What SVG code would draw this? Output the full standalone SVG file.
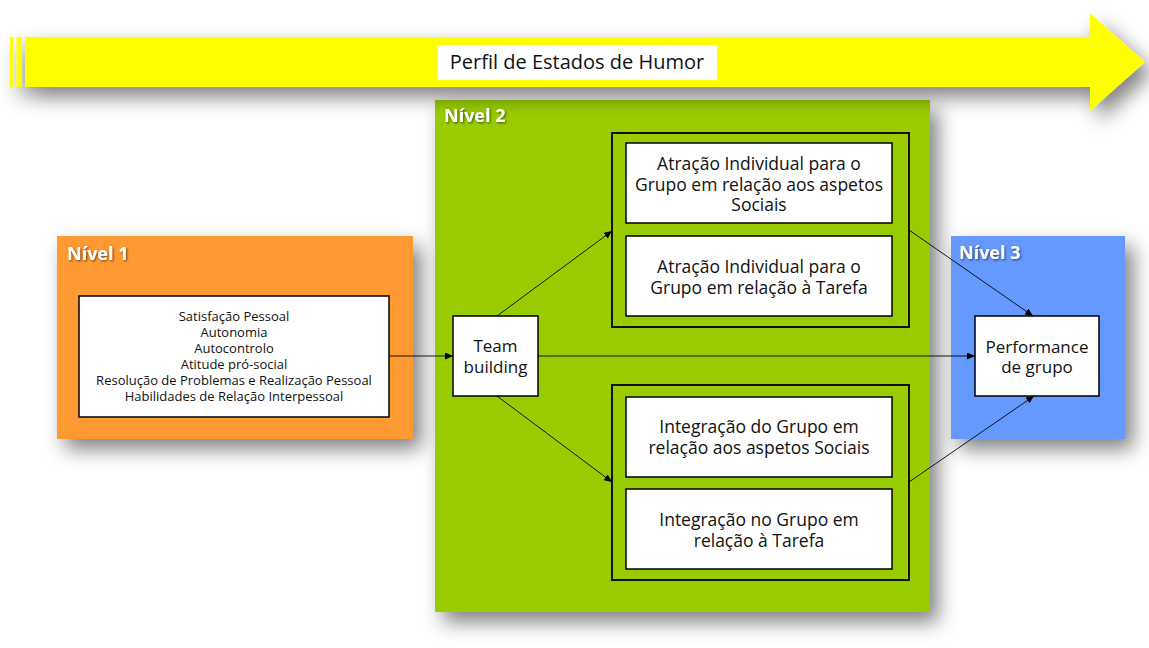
<svg xmlns="http://www.w3.org/2000/svg" width="1149" height="648" viewBox="0 0 1149 648">
<defs>
<filter id="sh" x="-20%" y="-50%" width="140%" height="200%">
<feGaussianBlur in="SourceAlpha" stdDeviation="10"/>
<feOffset dx="8" dy="10" result="b"/>
<feComponentTransfer><feFuncA type="linear" slope="0.5"/></feComponentTransfer>
<feMerge><feMergeNode/><feMergeNode in="SourceGraphic"/></feMerge>
</filter>
<filter id="tsh" x="-10%" y="-30%" width="130%" height="170%">
<feDropShadow dx="1.2" dy="1.2" stdDeviation="0.8" flood-color="#000" flood-opacity="0.55"/>
</filter>
<marker id="ah" markerWidth="8" markerHeight="7" refX="8" refY="3.5" orient="auto" markerUnits="userSpaceOnUse">
<path d="M0,0 L8,3.5 L0,7 Z" fill="#000"/>
</marker>
</defs>
<style>
text{font-family:"Open Sans","Liberation Sans",sans-serif;fill:#111;text-anchor:middle}
.lvl{font-weight:bold;font-size:18px;fill:#fff;text-anchor:start}
.box{fill:#fff;stroke:#000;stroke-width:1.5}
.grp{fill:#99cc00;stroke:#111;stroke-width:2}
.t17{font-size:17.5px}
.t13{font-size:13px}
.t16{font-size:17px}
.con line{stroke:#000;stroke-width:0.9;marker-end:url(#ah)}
</style>
<rect width="1149" height="648" fill="#fff"/>

<g id="nivel1">
<rect x="57" y="236" width="356" height="203" fill="#ff9933" filter="url(#sh)"/>
<text class="lvl" x="67" y="260" filter="url(#tsh)">Nível 1</text>
<rect class="box" x="79" y="296" width="310" height="121"/>
<text class="t13" x="234" y="321">Satisfação Pessoal</text>
<text class="t13" x="234" y="337">Autonomia</text>
<text class="t13" x="234" y="353">Autocontrolo</text>
<text class="t13" x="234" y="369">Atitude pró-social</text>
<text class="t13" x="234" y="385">Resolução de Problemas e Realização Pessoal</text>
<text class="t13" x="234" y="401">Habilidades de Relação Interpessoal</text>
</g>

<g id="nivel2-panel">
<rect x="435" y="100" width="495" height="512" fill="#99cc00" filter="url(#sh)"/>
</g>

<g id="nivel3-panel">
<rect x="951" y="236" width="174" height="203" fill="#6699ff" filter="url(#sh)"/>
</g>

<g id="perfil">
<g filter="url(#sh)" fill="#ffff00">
<rect x="10" y="37" width="3.5" height="50"/>
<rect x="16.5" y="37" width="5.5" height="50"/>
<path d="M25,37 H1090 V13 L1145,62 L1090,111 V87 H25 Z"/>
</g>
<rect x="437" y="45" width="280" height="35" fill="#fff"/>
<text x="577" y="69" style="font-size:20px">Perfil de Estados de Humor</text>
</g>

<g id="nivel2">
<text class="lvl" x="444" y="122" filter="url(#tsh)">Nível 2</text>
</g>

<g id="grupo-atracao">
<rect class="grp" x="612" y="133" width="297" height="194"/>
</g>
<g id="atracao-social">
<rect class="box" x="626" y="143" width="266" height="80"/>
<text class="t17" x="759" y="170">Atração Individual para o</text>
<text class="t17" x="759" y="191">Grupo em relação aos aspetos</text>
<text class="t17" x="759" y="211">Sociais</text>
</g>
<g id="atracao-tarefa">
<rect class="box" x="626" y="236" width="266" height="80"/>
<text class="t17" x="759" y="273">Atração Individual para o</text>
<text class="t17" x="759" y="294">Grupo em relação à Tarefa</text>
</g>

<g id="grupo-integracao">
<rect class="grp" x="612" y="385" width="297" height="195"/>
</g>
<g id="integracao-social">
<rect class="box" x="626" y="397" width="266" height="80"/>
<text class="t17" x="759" y="433">Integração do Grupo em</text>
<text class="t17" x="759" y="454">relação aos aspetos Sociais</text>
</g>
<g id="integracao-tarefa">
<rect class="box" x="626" y="489" width="266" height="80"/>
<text class="t17" x="759" y="526">Integração no Grupo em</text>
<text class="t17" x="759" y="547">relação à Tarefa</text>
</g>

<g id="team-building">
<rect class="box" x="453" y="316" width="85" height="80"/>
<text class="t16" x="495.5" y="352">Team</text>
<text class="t16" x="495.5" y="373">building</text>
</g>

<g id="nivel3">
<text class="lvl" x="959" y="259" filter="url(#tsh)">Nível 3</text>
</g>
<g id="performance">
<rect class="box" x="975" y="316" width="124" height="80"/>
<text class="t16" x="1037" y="353">Performance</text>
<text class="t16" x="1037" y="373">de grupo</text>
</g>

<g id="connectors" class="con">
<line x1="389" y1="356" x2="453" y2="356"/>
<line x1="497" y1="316" x2="612" y2="231"/>
<line x1="497" y1="396" x2="612" y2="482"/>
<line x1="538" y1="356" x2="975" y2="356"/>
<line x1="909" y1="230" x2="1033" y2="316"/>
<line x1="909" y1="482" x2="1034" y2="396"/>
</g>
</svg>
